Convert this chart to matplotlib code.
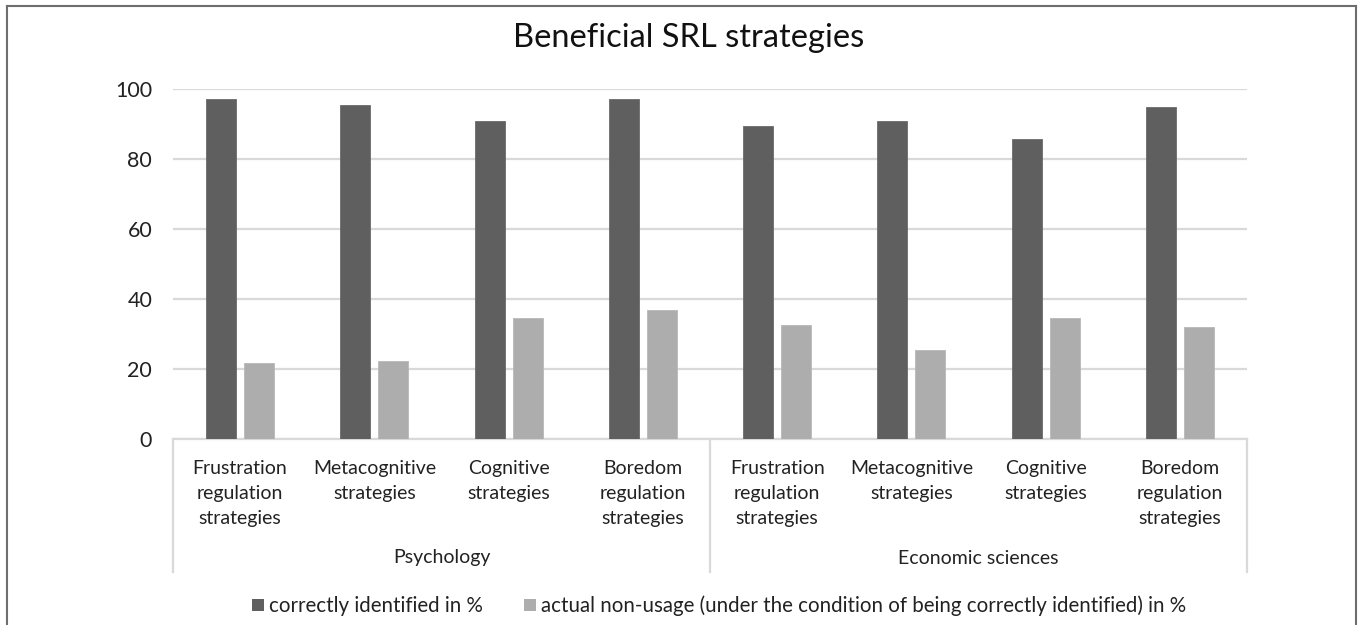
import matplotlib.pyplot as plt
from matplotlib.lines import Line2D
from matplotlib.patches import Patch
import numpy as np

TITULO = 'Beneficial SRL strategies'

estrategias = ['Frustration\nregulation\nstrategies', 'Metacognitive\nstrategies',
               'Cognitive\nstrategies', 'Boredom\nregulation\nstrategies']
grupos = ['Psychology', 'Economic sciences']

# valores (Psychology primeiro, depois Economic sciences)
corretos = [97.2, 95.3, 90.9, 97.2, 89.5, 90.9, 85.6, 94.8]
nao_uso = [21.8, 22.2, 34.6, 36.8, 32.5, 25.4, 34.6, 32.1]

legenda = ['correctly identified in %',
           'actual non-usage (under the condition of being correctly identified) in %']

COR_ESCURA = '#5f5f5f'
COR_CLARA = '#adadad'
COR_GRADE = '#d9d9d9'
COR_TEXTO = '#222222'


def gerar_grafico():
    plt.rcParams['font.family'] = ['Lato', 'DejaVu Sans']

    fig = plt.figure(figsize=(13.6, 6.25), dpi=100)
    ax = fig.add_axes([173 / 1360, 1 - 439 / 625, (1247 - 173) / 1360, 350 / 625])

    x = np.arange(len(corretos))
    largura = 0.224
    desloc = 0.142
    ax.bar(x - desloc, corretos, largura, color=COR_ESCURA, edgecolor='#6a6a6a', linewidth=0.6, zorder=3)
    ax.bar(x + desloc, nao_uso, largura, color=COR_CLARA, edgecolor='#b8b8b8', linewidth=0.6, zorder=3)

    ax.set_xlim(-0.5, len(corretos) - 0.5)
    ax.set_ylim(0, 100)
    ax.set_yticks(range(0, 101, 20))
    ax.tick_params(axis='y', length=0, pad=15, labelsize=15.5, labelcolor=COR_TEXTO)
    ax.yaxis.grid(True, color=COR_GRADE, linewidth=1.6, zorder=0)
    for lado in ['left', 'right', 'top']:
        ax.spines[lado].set_visible(False)
    ax.spines['bottom'].set_color(COR_GRADE)
    ax.spines['bottom'].set_linewidth(1.6)

    # rótulos das categorias (duas vezes as mesmas estratégias)
    ax.set_xticks(x)
    ax.set_xticklabels(estrategias * 2, fontsize=14, color=COR_TEXTO, linespacing=1.57)
    ax.tick_params(axis='x', length=0, pad=15)

    # linhas verticais separando os grupos
    trans = ax.get_xaxis_transform()
    for pos in [-0.5, 3.5, 7.5]:
        ax.add_line(Line2D([pos, pos], [0, -0.38], transform=trans, color=COR_GRADE,
                           linewidth=1.6, clip_on=False))

    ax.text(1.5, -0.34, grupos[0], transform=trans, ha='center', va='center', fontsize=14, color=COR_TEXTO)
    ax.text(5.5, -0.34, grupos[1], transform=trans, ha='center', va='center', fontsize=14, color=COR_TEXTO)

    fig.text(689 / 1360, 1 - 38 / 625, TITULO, ha='center', va='center', fontsize=23.5, color='#111111')

    alcas = [Patch(facecolor=COR_ESCURA), Patch(facecolor=COR_CLARA)]
    fig.legend(alcas, legenda, loc='center', bbox_to_anchor=(0.529, 1 - 606 / 625), ncol=2,
               frameon=False, fontsize=14.8, handlelength=0.58, handleheight=0.58,
               handletextpad=0.25, columnspacing=2.0, labelcolor=COR_TEXTO)

    # moldura em volta da figura
    cor_moldura = '#6e6e6e'
    x0, x1, y1 = 7 / 1360, 1356 / 1360, 1 - 6 / 625
    fig.add_artist(Line2D([x0, x0], [-0.01, y1], color=cor_moldura, linewidth=1.5))
    fig.add_artist(Line2D([x0, x1], [y1, y1], color=cor_moldura, linewidth=1.5))
    fig.add_artist(Line2D([x1, x1], [-0.01, y1], color=cor_moldura, linewidth=1.5))

    plt.savefig('out.png', dpi=100)
    print("Gráfico gerado: out.png")


if __name__ == "__main__":
    gerar_grafico()
